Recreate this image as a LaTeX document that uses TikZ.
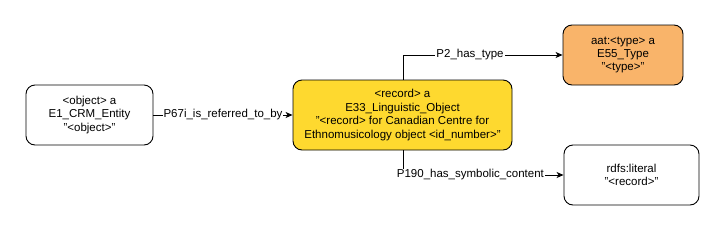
\documentclass[tikz,border=0pt]{standalone}
\usepackage{fontspec}
\setmainfont{Liberation Sans}
\usetikzlibrary{arrows.meta}
\definecolor{yel}{RGB}{254,217,47}
\definecolor{ora}{RGB}{249,180,106}
\tikzset{
  box/.style={draw=black, line width=0.9pt, rounded corners=9pt, align=center, inner sep=0pt,
    font=\fontsize{11.5}{13.4}\selectfont},
  conn/.style={draw=black, line width=0.9pt, -{Stealth[length=7pt,width=6pt,inset=2pt]}},
  lbl/.style={fill=white, inner sep=1pt, font=\fontsize{11.5}{13.4}\selectfont}
}
\begin{document}
\begin{tikzpicture}[x=1pt,y=-1pt]
\useasboundingbox (0,0) rectangle (726,231);
\node[box, minimum width=127pt, minimum height=60pt] (obj) at (89.5,115) {<object> a\\E1\_CRM\_Entity\\"<object>"};
\node[box, fill=yel, minimum width=219pt, minimum height=70pt] (rec) at (402.5,115) {<record> a\\E33\_Linguistic\_Object\\"<record> for Canadian Centre for\\Ethnomusicology object <id\_number>"};
\node[box, fill=ora, minimum width=120pt, minimum height=60pt] (typ) at (623,55) {aat:<type> a\\E55\_Type\\"<type>"};
\node[box, minimum width=135pt, minimum height=60pt] (lit) at (631.5,175) {rdfs:literal\\"<record>"};
\coordinate (c1) at (403,55);
\coordinate (c2) at (403,175);
\draw[conn] (obj.east) -- node[lbl] {P67i\_is\_referred\_to\_by} (rec.west);
\draw[conn] (rec.north -| c1) -- (c1) -- node[lbl, pos=0.42] {P2\_has\_type} (typ.west);
\draw[conn] (rec.south -| c2) -- (c2) -- node[lbl, pos=0.42] {P190\_has\_symbolic\_content} (lit.west);
\end{tikzpicture}
\end{document}
